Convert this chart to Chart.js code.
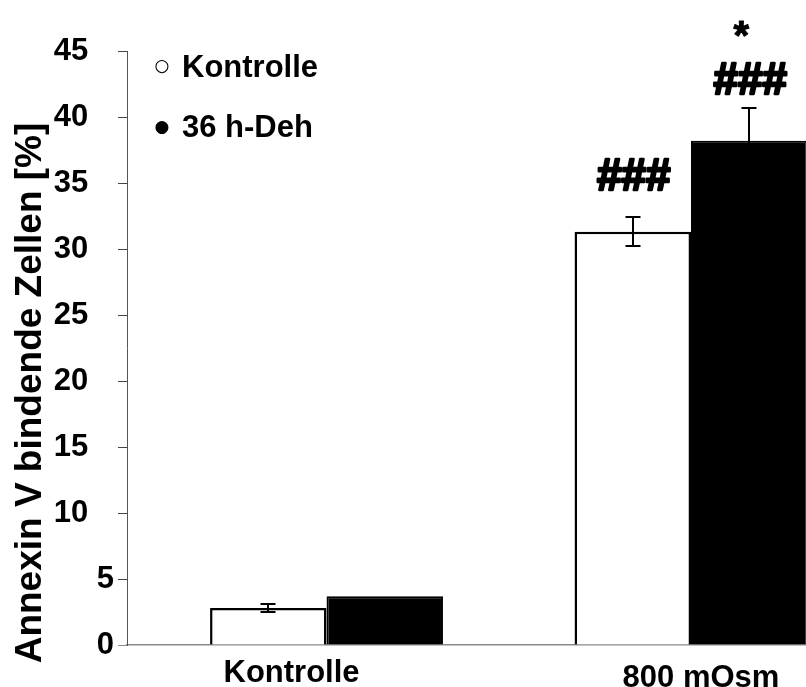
<!DOCTYPE html>
<html><head><meta charset="utf-8">
<script src="https://cdn.jsdelivr.net/npm/chart.js@4/dist/chart.umd.min.js"></script>
<style>html,body{margin:0;padding:0;background:#fff;overflow:hidden}#wrap{width:806px;height:687px;position:relative}</style>
</head><body><div id="wrap"><canvas id="c" width="806" height="687"></canvas></div>
<script>
// ---- data ----
const categories = ['Kontrolle', '800 mOsm'];
const seriesNames = ['Kontrolle', '36 h-Deh'];
const kontrolleValues = [2.8, 31.3];
const kontrolleErrors = [0.3, 1.1];
const dehValues = [3.7, 38.2];
const dehErrors = [0, 2.5];
const kontrolleMarks = ['', '###'];
const dehMarks = ['', '###'];
const dehMarksTop = ['', '*'];
const yTicks = [0, 5, 10, 15, 20, 25, 30, 35, 40, 45];
const yTitle = 'Annexin V bindende Zellen [%]';

const FONT = '"Liberation Sans", Arial, Helvetica, sans-serif';

const toPoints = vals => vals.map((v, i) => ({x: i + 1, y: v}));

const errorBars = {
  id: 'errorBars',
  afterDatasetsDraw(chart) {
    const ctx = chart.ctx, ys = chart.scales.y;
    const errs = [kontrolleErrors, dehErrors];
    const vals = [kontrolleValues, dehValues];
    ctx.save();
    ctx.strokeStyle = '#000';
    ctx.lineWidth = 2;
    chart.data.datasets.forEach((ds, d) => {
      const meta = chart.getDatasetMeta(d);
      meta.data.forEach((bar, i) => {
        const e = errs[d][i];
        if (!e) return;
        const x = Math.round(bar.x);
        const top = Math.round(ys.getPixelForValue(vals[d][i] + e));
        const bot = Math.round(ys.getPixelForValue(vals[d][i] - e));
        ctx.beginPath();
        ctx.moveTo(x, top); ctx.lineTo(x, bot);
        ctx.moveTo(x - 7.5, top); ctx.lineTo(x + 7.5, top);
        ctx.moveTo(x - 7.5, bot); ctx.lineTo(x + 7.5, bot);
        ctx.stroke();
      });
    });
    ctx.restore();
  }
};

const decorations = {
  id: 'decorations',
  afterDraw(chart) {
    const ctx = chart.ctx, ys = chart.scales.y, xs = chart.scales.x;
    const area = chart.chartArea;
    ctx.save();
    ctx.fillStyle = '#000';
    ctx.strokeStyle = '#000';
    ctx.lineJoin = 'round';
    // significance marks
    const marks = [kontrolleMarks, dehMarks];
    const errs = [kontrolleErrors, dehErrors];
    const vals = [kontrolleValues, dehValues];
    const gaps = [26, 13];
    ctx.textAlign = 'center';
    ctx.textBaseline = 'alphabetic';
    chart.data.datasets.forEach((ds, d) => {
      const meta = chart.getDatasetMeta(d);
      meta.data.forEach((bar, i) => {
        if (!marks[d][i]) return;
        const yTop = ys.getPixelForValue(vals[d][i] + errs[d][i]);
        const base = yTop - gaps[d];
        ctx.font = 'bold 44px ' + FONT;
        ctx.lineWidth = 2.5;
        ctx.fillText(marks[d][i], bar.x + 1, base - 1);
        ctx.strokeText(marks[d][i], bar.x + 1, base - 1);
        if (d === 1 && dehMarksTop[i]) {
          ctx.font = 'bold 40px ' + FONT;
          ctx.lineWidth = 1;
          ctx.fillText(dehMarksTop[i], bar.x - 8, base - 46);
          ctx.strokeText(dehMarksTop[i], bar.x - 8, base - 46);
        }
      });
    });
    // x category labels
    const nudge = [-35, 10];
    const drop = [37, 42];
    ctx.font = 'bold 31px ' + FONT;
    categories.forEach((c, i) => {
      ctx.fillText(c, xs.getPixelForValue(i + 1) + nudge[i], area.bottom + drop[i]);
    });
    // legend
    ctx.textAlign = 'left';
    ctx.textBaseline = 'alphabetic';
    ctx.font = 'bold 31px ' + FONT;
    ctx.fillText(seriesNames[0], 182, 77);
    ctx.fillText(seriesNames[1], 182, 137);
    ctx.textAlign = 'center';
    ctx.textBaseline = 'middle';
    ctx.font = '17px "DejaVu Sans", sans-serif';
    ctx.fillText('\u25CB', 162, 67);
    ctx.fillText('\u25CF', 162, 128);
    // y title
    ctx.translate(31, 393);
    ctx.rotate(-Math.PI / 2);
    ctx.font = 'bold 37px ' + FONT;
    ctx.textAlign = 'center';
    ctx.textBaseline = 'middle';
    ctx.fillText(yTitle, 0, 0);
    ctx.restore();
  }
};

new Chart(document.getElementById('c'), {
  type: 'bar',
  data: {
    datasets: [
      { label: seriesNames[0], data: toPoints(kontrolleValues), backgroundColor: '#fff', borderColor: '#000', borderWidth: 2.5 },
      { label: seriesNames[1], data: toPoints(dehValues), backgroundColor: '#000', borderColor: '#000', borderWidth: 2 }
    ]
  },
  options: {
    responsive: false,
    animation: false,
    devicePixelRatio: 1,
    layout: { padding: { top: 51, left: 0, right: 0, bottom: 0 } },
    categoryPercentage: 0.639,
    barPercentage: 1,
    plugins: { legend: { display: false }, tooltip: { enabled: false } },
    scales: {
      x: {
        type: 'linear',
        offset: false,
        min: 0.4526,
        max: 2.3155,
        afterBuildTicks: s => { s.ticks = categories.map((c, i) => ({value: i + 1})); },
        afterFit: s => { s.height = 42; },
        ticks: { display: false },
        grid: { display: false, offset: false },
        border: { display: true, color: '#8a8a8a', width: 1.5 }
      },
      y: {
        min: 0, max: 45,
        afterBuildTicks: s => { s.ticks = yTicks.map(v => ({value: v})); },
        afterFit: s => { s.width = 127; },
        ticks: {
          font: { family: FONT, size: 31, weight: 'bold' }, color: '#000', padding: 4,
          callback: v => v >= 10 ? v + '   ' : String(v)
        },
        grid: { drawOnChartArea: false, drawTicks: true, tickLength: 9, tickColor: c => c.tick && c.tick.value === 0 ? '#8a8a8a' : '#444', lineWidth: 1 },
        border: { display: true, color: '#555', width: 1 }
      }
    }
  },
  plugins: [errorBars, decorations]
});
</script></body></html>
